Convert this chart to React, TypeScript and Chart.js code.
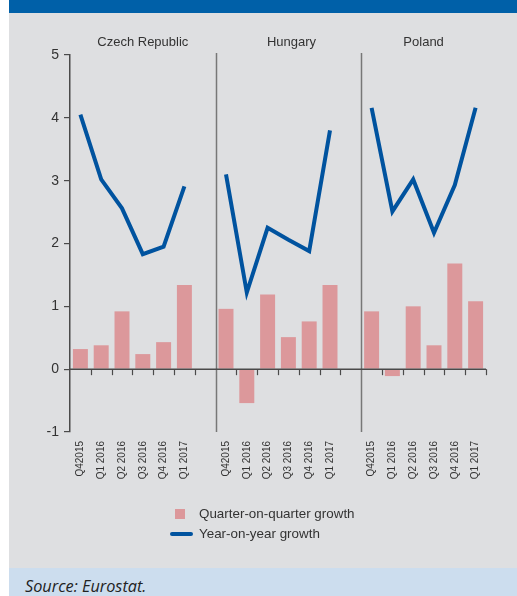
import React, { useEffect, useRef } from "react";
import { Chart, registerables } from "chart.js";

Chart.register(...registerables);

const quarters = ["Q42015", "Q1 2016", "Q2 2016", "Q3 2016", "Q4 2016", "Q1 2017"];
const countries = ["Czech Republic", "Hungary", "Poland"];

const czQoq = [0.32, 0.38, 0.92, 0.24, 0.43, 1.34];
const huQoq = [0.96, -0.54, 1.19, 0.51, 0.76, 1.34];
const plQoq = [0.92, -0.11, 1.0, 0.38, 1.68, 1.08];

const czYoy = [4.05, 3.02, 2.56, 1.83, 1.95, 2.91];
const huYoy = [3.1, 1.22, 2.25, 2.06, 1.88, 3.8];
const plYoy = [4.16, 2.51, 3.02, 2.17, 2.93, 4.16];

const yTicks = [-1, 0, 1, 2, 3, 4, 5];

const seriesNames = ["Quarter-on-quarter growth", "Year-on-year growth"];

const BAR_COLOR = "#DC989B";
const LINE_COLOR = "#00539F";
const AXIS_COLOR = "#4a4a4a";
const TEXT_COLOR = "#333333";
const NARROW = '"Liberation Sans Narrow", "Liberation Sans", Arial, sans-serif';

// 20 slots: 6 + gap + 6 + gap + 6
const labels: string[] = [...quarters, "", ...quarters, "", ...quarters];
const qoqData: (number | null)[] = [...czQoq, null, ...huQoq, null, ...plQoq];
const yoyData: (number | null)[] = [...czYoy, null, ...huYoy, null, ...plYoy];
const titleSlots = [3, 10.15, 16.5];
const dividerSlots = [6.5, 13.5];

const decorPlugin = {
  id: "decor",
  afterDatasetsDraw(chart: any) {
    const { ctx, chartArea, scales } = chart;
    const x = scales.x;
    const y = scales.y;
    const y0 = y.getPixelForValue(0);
    ctx.save();
    // dividers
    ctx.strokeStyle = "#777777";
    ctx.lineWidth = 1.5;
    dividerSlots.forEach((s) => {
      const px = Math.round(x.getPixelForValue(s)) + 0.5;
      ctx.beginPath();
      ctx.moveTo(px, chartArea.top - 2);
      ctx.lineTo(px, chartArea.bottom);
      ctx.stroke();
    });
    // zero line
    ctx.strokeStyle = AXIS_COLOR;
    ctx.lineWidth = 1.5;
    ctx.beginPath();
    ctx.moveTo(chartArea.left, y0);
    ctx.lineTo(chartArea.right, y0);
    ctx.stroke();
    // ticks after each bar
    ctx.lineWidth = 1.2;
    labels.forEach((l, i) => {
      if (!l) return;
      const px = Math.round(x.getPixelForValue(i + 0.5)) + 0.5;
      ctx.beginPath();
      ctx.moveTo(px, y0);
      ctx.lineTo(px, y0 + 6);
      ctx.stroke();
    });
    ctx.restore();
  },
  afterDraw(chart: any) {
    const { ctx, scales } = chart;
    const x = scales.x;
    ctx.save();
    ctx.fillStyle = TEXT_COLOR;
    ctx.font = "13px " + NARROW;
    ctx.textAlign = "center";
    ctx.textBaseline = "alphabetic";
    countries.forEach((c, i) => {
      ctx.fillText(c, x.getPixelForValue(titleSlots[i]), 46);
    });
    // legend
    ctx.fillStyle = BAR_COLOR;
    ctx.fillRect(175, 509, 10, 10);
    ctx.strokeStyle = LINE_COLOR;
    ctx.lineWidth = 4;
    ctx.lineCap = "round";
    ctx.beginPath();
    ctx.moveTo(172, 534);
    ctx.lineTo(191, 534);
    ctx.stroke();
    ctx.fillStyle = TEXT_COLOR;
    ctx.textAlign = "left";
    ctx.textBaseline = "middle";
    ctx.font = "13.4px " + NARROW;
    ctx.fillText(seriesNames[0], 199, 514);
    ctx.fillText(seriesNames[1], 199, 534);
    ctx.restore();
  },
};

export default function App() {
  const ref = useRef<HTMLCanvasElement>(null);
  useEffect(() => {
    if (!ref.current) return;
    const chart = new Chart(ref.current, {
      type: "bar",
      data: {
        labels,
        datasets: [
          {
            type: "line",
            label: seriesNames[1],
            data: yoyData,
            borderColor: LINE_COLOR,
            backgroundColor: LINE_COLOR,
            borderWidth: 4,
            pointRadius: 0,
            spanGaps: false,
            tension: 0,
            order: 0,
          } as any,
          {
            type: "bar",
            label: seriesNames[0],
            data: qoqData,
            backgroundColor: BAR_COLOR,
            borderWidth: 0,
            categoryPercentage: 1,
            barPercentage: 0.72,
            order: 1,
          },
        ],
      },
      options: {
        responsive: false,
        animation: false,
        layout: { padding: { left: 0, right: 31, top: 55, bottom: 104 } },
        plugins: { legend: { display: false }, tooltip: { enabled: false } },
        scales: {
          x: {
            type: "category",
            offset: true,
            grid: { display: true, drawOnChartArea: false, drawTicks: false, color: "transparent" },
            border: { display: false },
            ticks: {
              autoSkip: false,
              maxRotation: 90,
              minRotation: 90,
              padding: 9,
              color: TEXT_COLOR,
              font: { family: NARROW, size: 10 },
            },
            afterFit: (s: any) => {
              s.height = 60;
            },
          },
          y: {
            min: -1,
            max: 5,
            afterBuildTicks: (s: any) => {
              s.ticks = yTicks.map((v) => ({ value: v }));
            },
            grid: { drawOnChartArea: false, drawTicks: true, tickLength: 6, color: AXIS_COLOR, tickColor: AXIS_COLOR, lineWidth: 1.2 },
            border: { display: true, color: AXIS_COLOR, width: 1.5 },
            ticks: {
              padding: 5,
              color: TEXT_COLOR,
              font: { family: NARROW, size: 14 },
            },
            afterFit: (s: any) => {
              s.width = 70;
            },
          },
        },
      },
      plugins: [decorPlugin],
    });
    return () => chart.destroy();
  }, []);

  return (
    <div style={{ position: "absolute", left: 0, top: 0, width: 517, height: 596, background: "#ffffff", overflow: "hidden" }}>
      <div style={{ position: "absolute", left: 9, top: 0, right: 0, height: 13, background: "#0060A8" }} />
      <div style={{ position: "absolute", left: 9, top: 13, right: 0, height: 555, background: "#DEDFE1" }} />
      <div
        style={{
          position: "absolute",
          left: 9,
          top: 568,
          right: 0,
          height: 28,
          background: "#CCDDEE",
          fontFamily: '"Open Sans", "Noto Sans", sans-serif',
          fontStyle: "italic",
          fontSize: 16.3,
          color: "#222",
          lineHeight: "20px",
          paddingTop: 8,
          paddingLeft: 16,
          boxSizing: "border-box",
        }}
      >
        Source: Eurostat.
      </div>
      <canvas ref={ref} width={517} height={596} style={{ position: "absolute", left: 0, top: 0, width: 517, height: 596 }} />
    </div>
  );
}
